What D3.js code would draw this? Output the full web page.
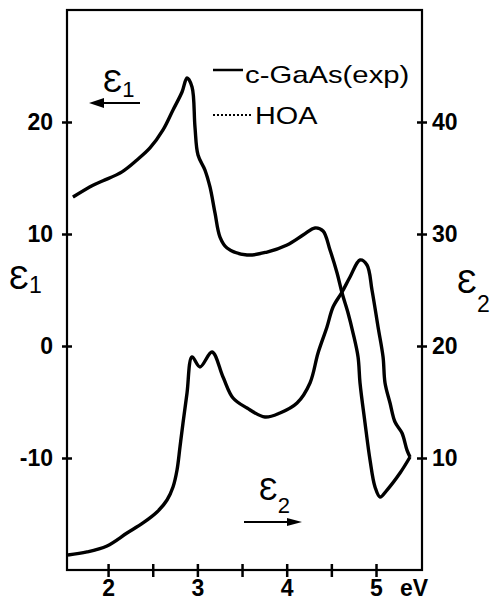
<!DOCTYPE html>
<html>
<head>
<meta charset="utf-8">
<script src="https://cdnjs.cloudflare.com/ajax/libs/d3/7.8.5/d3.min.js"></script>
<style>
body { margin: 0; background: #fff; }
text { font-family: "Liberation Sans", Arial, sans-serif; fill: #000; }
</style>
</head>
<body>
<div id="chart"></div>
<script>
// eps1 (left axis), energy in eV
var eps1Energy = [1.607, 1.831, 1.943, 2.156, 2.324, 2.469, 2.615, 2.727, 2.828, 2.884, 2.940, 2.973,
    3.007, 3.085, 3.141, 3.197, 3.253, 3.332, 3.556, 3.780, 4.004, 4.183, 4.317, 4.407, 4.485,
    4.564, 4.620, 4.687, 4.743, 4.799, 4.821, 4.877, 4.933, 4.989, 5.045, 5.123, 5.269, 5.381];
var eps1Values = [13.30, 14.35, 14.75, 15.55, 16.61, 17.68, 19.29, 21.07, 22.68, 23.93, 23.13, 19.55,
    17.05, 15.71, 14.20, 11.88, 9.73, 8.75, 8.13, 8.39, 9.02, 9.91, 10.54, 10.27, 8.57,
    6.52, 4.73, 2.95, 1.16, -0.98, -3.30, -6.87, -10.18, -12.59, -13.48, -12.86, -11.34, -9.91];

// eps2 (right axis)
var eps2Energy = [1.551, 1.764, 1.988, 2.212, 2.391, 2.548, 2.660, 2.727, 2.772, 2.805, 2.839, 2.884,
    2.940, 3.029, 3.164, 3.287, 3.399, 3.556, 3.757, 3.925, 4.116, 4.261, 4.351, 4.451, 4.519,
    4.620, 4.709, 4.821, 4.899, 4.955, 5.023, 5.079, 5.101, 5.157, 5.213, 5.291, 5.347, 5.381];
var eps2Values = [1.34, 1.61, 2.15, 3.30, 4.20, 5.18, 6.25, 7.41, 8.93, 10.98, 13.13, 15.80,
    19.02, 18.13, 19.46, 17.23, 15.36, 14.46, 13.66, 14.02, 14.91, 16.70, 19.38, 21.70, 23.48,
    24.82, 26.16, 27.68, 27.23, 25.00, 21.70, 19.02, 16.70, 14.91, 13.21, 12.23, 10.71, 10.09];

var xTicks = [2, 2.5, 3, 3.5, 4, 4.5, 5];
var leftTicks = [-10, 0, 10, 20];
var rightTicks = [10, 20, 30, 40];
var seriesNames = ["c-GaAs(exp)", "HOA"];

var W = 496, H = 603;
var plotL = 67, plotR = 422, plotT = 10, plotB = 570;
var tickFont = "23px";

var svg = d3.select("#chart").append("svg")
    .attr("width", W)
    .attr("height", H)
    .style("display", "block");

var x = d3.scaleLinear().domain([1.54, 5.515]).range([plotL, plotR]);
var yLeft = d3.scaleLinear().domain([-20, 30]).range([plotB, plotT]);
var yRight = d3.scaleLinear().domain([0, 50]).range([plotB, plotT]);

// frame
svg.append("rect")
    .attr("x", plotL)
    .attr("y", plotT)
    .attr("width", plotR - plotL)
    .attr("height", plotB - plotT)
    .attr("fill", "none")
    .attr("stroke", "#000")
    .attr("stroke-width", 2.2);

// bottom axis, ticks cross the line
var gx = svg.append("g")
    .attr("transform", "translate(0," + plotB + ")")
    .call(d3.axisBottom(x).tickValues(xTicks).tickSize(7)
        .tickFormat(function(d) { return d % 1 === 0 ? String(d) : ""; }));
gx.select(".domain").remove();
gx.selectAll(".tick line").attr("y1", -6).attr("stroke-width", 2.5);
gx.selectAll(".tick text")
    .attr("y", 10)
    .style("font-size", tickFont)
    .style("font-weight", "bold")
    .style("font-family", "Liberation Sans, Arial, sans-serif");

svg.append("text")
    .attr("x", 414)
    .attr("y", 596)
    .attr("text-anchor", "middle")
    .style("font-size", tickFont)
    .style("font-weight", "bold")
    .text("eV");

// left axis
var gl = svg.append("g")
    .attr("transform", "translate(" + plotL + ",0)")
    .call(d3.axisLeft(yLeft).tickValues(leftTicks).tickSize(5)
        .tickFormat(function(d) { return String(d); }));
gl.select(".domain").remove();
gl.selectAll(".tick line").attr("x1", 5).attr("stroke-width", 2.5);
gl.selectAll(".tick text")
    .attr("x", -14)
    .style("font-size", tickFont)
    .style("font-weight", "bold")
    .style("font-family", "Liberation Sans, Arial, sans-serif");

// right axis
var gr = svg.append("g")
    .attr("transform", "translate(" + plotR + ",0)")
    .call(d3.axisRight(yRight).tickValues(rightTicks).tickSize(5)
        .tickFormat(function(d) { return String(d); }));
gr.select(".domain").remove();
gr.selectAll(".tick line").attr("x1", -5).attr("stroke-width", 2.5);
gr.selectAll(".tick text")
    .attr("x", 10)
    .style("font-size", tickFont)
    .style("font-weight", "bold")
    .style("font-family", "Liberation Sans, Arial, sans-serif");

// axis titles
function epsLabel(px, py, sub, subDy, size) {
    var t = svg.append("text")
        .attr("x", px)
        .attr("y", py)
        .style("font-size", size + "px");
    t.append("tspan").text("\u0190");
    t.append("tspan")
        .attr("dy", subDy)
        .style("font-size", Math.round(size * 0.7) + "px")
        .text(sub);
}
epsLabel(9, 289, "1", 4, 33);
epsLabel(457, 293, "2", 19, 33);
epsLabel(103, 92, "1", 5, 32);
epsLabel(259, 500, "2", 13, 31);

// arrows next to the inner labels
svg.append("line").attr("x1", 100).attr("y1", 103).attr("x2", 140).attr("y2", 103)
    .attr("stroke", "#000").attr("stroke-width", 2);
svg.append("path").attr("d", "M89,103 L104,98 L104,108 Z").attr("fill", "#000");
svg.append("line").attr("x1", 244).attr("y1", 522).attr("x2", 290).attr("y2", 522)
    .attr("stroke", "#000").attr("stroke-width", 2);
svg.append("path").attr("d", "M302,522 L287,518 L287,526 Z").attr("fill", "#000");

// curves
var line1 = d3.line()
    .x(function(d) { return x(d[0]); })
    .y(function(d) { return yLeft(d[1]); })
    .curve(d3.curveCatmullRom.alpha(0.5));
var line2 = d3.line()
    .x(function(d) { return x(d[0]); })
    .y(function(d) { return yRight(d[1]); })
    .curve(d3.curveCatmullRom.alpha(0.5));

var pts1 = d3.zip(eps1Energy, eps1Values);
var pts2 = d3.zip(eps2Energy, eps2Values);

// experiment, solid
svg.append("path").datum(pts1).attr("d", line1)
    .attr("fill", "none").attr("stroke", "#000").attr("stroke-width", 3.4)
    .attr("stroke-linejoin", "round");
svg.append("path").datum(pts2).attr("d", line2)
    .attr("fill", "none").attr("stroke", "#000").attr("stroke-width", 3.4)
    .attr("stroke-linejoin", "round");

// HOA, dotted - lies on top of the measured curve in the figure
svg.append("path").datum(pts1).attr("d", line1)
    .attr("fill", "none").attr("stroke", "#000").attr("stroke-width", 1.5)
    .attr("stroke-dasharray", "2,2");
svg.append("path").datum(pts2).attr("d", line2)
    .attr("fill", "none").attr("stroke", "#000").attr("stroke-width", 1.5)
    .attr("stroke-dasharray", "2,2");

// legend, glyphs stretched wide like the original lettering
svg.append("line").attr("x1", 213).attr("y1", 70).attr("x2", 243).attr("y2", 70)
    .attr("stroke", "#000").attr("stroke-width", 2.5);
svg.append("text")
    .attr("transform", "translate(245,83) scale(1.22,1)")
    .style("font-size", "24px")
    .text(seriesNames[0]);

svg.append("line").attr("x1", 213).attr("y1", 115).attr("x2", 251).attr("y2", 115)
    .attr("stroke", "#000").attr("stroke-width", 2).attr("stroke-dasharray", "2,2");
svg.append("text")
    .attr("transform", "translate(255,124) scale(1.2,1)")
    .style("font-size", "24px")
    .text(seriesNames[1]);
</script>
</body>
</html>
